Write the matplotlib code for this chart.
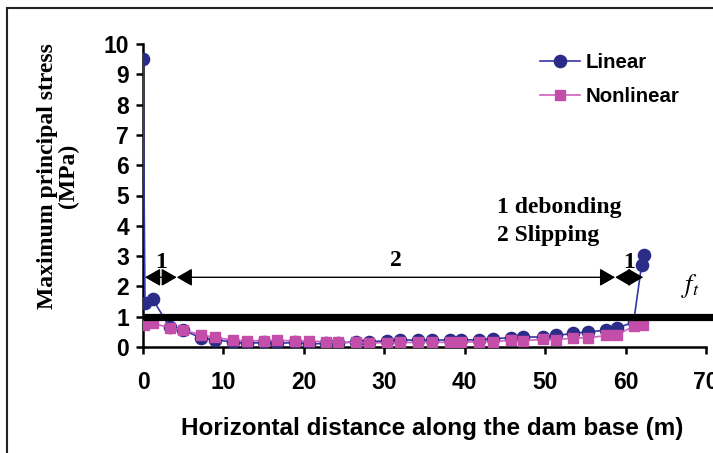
import matplotlib
matplotlib.use("Agg")
import matplotlib.pyplot as plt
from matplotlib.patches import Rectangle
from matplotlib.lines import Line2D

# Stress along the dam base
lin_x = [0, 0.25, 1.2, 3.3, 5.0, 7.2, 9.0, 11.2, 12.9, 15.0, 16.7, 18.9, 20.6,
         22.8, 24.3, 26.5, 28.1, 30.3, 32.0, 34.2, 35.9, 38.2, 39.6, 41.8, 43.5,
         45.7, 47.3, 49.7, 51.4, 53.5, 55.3, 57.6, 58.9, 61.0, 62.0, 62.3]
lin_y = [9.5, 1.45, 1.58, 0.66, 0.56, 0.30, 0.24, 0.16, 0.12, 0.15, 0.12, 0.15, 0.10,
         0.12, 0.13, 0.18, 0.18, 0.20, 0.24, 0.22, 0.23, 0.23, 0.23, 0.24, 0.28,
         0.30, 0.33, 0.33, 0.38, 0.45, 0.50, 0.55, 0.62, 0.82, 2.72, 3.03]

non_x = [0.1, 1.2, 3.3, 5.0, 7.2, 9.0, 11.2, 12.9, 15.0, 16.7, 18.9, 20.6,
         22.8, 24.3, 26.5, 28.1, 30.3, 32.0, 34.2, 35.9, 38.2, 39.6, 41.8, 43.5,
         45.7, 47.3, 49.7, 51.4, 53.5, 55.3, 57.6, 58.9, 61.0, 62.2]
non_y = [0.72, 0.79, 0.63, 0.56, 0.40, 0.32, 0.22, 0.21, 0.20, 0.22, 0.20, 0.20,
         0.17, 0.15, 0.15, 0.14, 0.14, 0.15, 0.15, 0.16, 0.15, 0.16, 0.17, 0.18,
         0.22, 0.21, 0.25, 0.24, 0.30, 0.30, 0.38, 0.40, 0.68, 0.74]

ft_value = 1.0
x_ticks = [0, 10, 20, 30, 40, 50, 60, 70]
y_ticks = list(range(0, 11))

# zone arrows: (start, end, label)
zones = [(0.25, 4.2, "1"), (4.2, 58.7, "2"), (58.7, 62.2, "1")]
zone_y = 2.3

W, H = 713, 453
fig = plt.figure(figsize=(W / 100, H / 100), dpi=100)
ax = fig.add_axes([143 / W, 1 - 347 / H, 563 / W, 303 / H])

sans = "Liberation Sans"
serif = "Liberation Serif"
navy = "#2B2B88"
navy_line = "#3535A8"
pink = "#C24EAA"
pink_line = "#D060BE"

ax.plot(lin_x, lin_y, color=navy_line, lw=1.2, marker="o", ms=8.8,
        mfc=navy, mec=navy, zorder=3, label="Linear")
ax.plot(non_x, non_y, color=pink_line, lw=1.2, marker="s", ms=6.8,
        mfc=pink, mec=pink, zorder=4, label="Nonlinear")

# tensile strength line
ax.plot([0, 71], [ft_value, ft_value], color="black", lw=5.2, zorder=5,
        clip_on=False, solid_capstyle="butt")

ax.set_xlim(0, 70)
ax.set_ylim(0, 10)
ax.set_xticks(x_ticks)
ax.set_yticks(y_ticks)
for s in ("top", "right"):
    ax.spines[s].set_visible(False)
for s in ("left", "bottom"):
    ax.spines[s].set_linewidth(1.8)
ax.tick_params(axis="both", width=1.8, length=5, direction="out")
ax.tick_params(axis="x", pad=12)
ax.tick_params(axis="y", pad=5)
for lab in ax.get_xticklabels() + ax.get_yticklabels():
    lab.set_fontfamily(sans)
    lab.set_fontweight("bold")
    lab.set_fontsize(16.5)

ax.set_xlabel("Horizontal distance along the dam base (m)", fontfamily=sans,
              fontweight="bold", fontsize=17.5)
ax.xaxis.set_label_coords(0.513, -0.232)
ax.set_ylabel("Maximum principal stress\n(MPa)", fontfamily=serif,
              fontweight="bold", fontsize=17, multialignment="center",
              linespacing=1.0)
ax.yaxis.set_label_coords(-0.113, 0.565)

# zone arrows
for x0, x1, lab in zones:
    ax.annotate("", xy=(x1, zone_y), xytext=(x0, zone_y),
                arrowprops=dict(arrowstyle="<|-|>,head_length=0.47,head_width=0.27",
                                color="black", lw=1.0, shrinkA=0, shrinkB=0,
                                mutation_scale=20), zorder=6)
    ax.text((x0 + x1) / 2, zone_y + (0.15 if lab == "1" else 0.2), lab,
            ha="center", va="bottom", fontfamily=serif, fontweight="bold",
            fontsize=17, zorder=7)

ax.text(44.0, 4.6, "1 debonding", fontfamily=serif, fontweight="bold",
        fontsize=17, va="center", ha="left")
ax.text(44.0, 3.68, "2 Slipping", fontfamily=serif, fontweight="bold",
        fontsize=17, va="center", ha="left")
ax.text(68.0, 2.0, r"$f_t$", fontsize=19, va="center", ha="center",
        math_fontfamily="stix")

handles = [Line2D([], [], color=navy_line, lw=1.2, marker="o", ms=8.8,
                  mfc=navy, mec=navy),
           Line2D([], [], color=pink_line, lw=1.2, marker="s", ms=6.8,
                  mfc=pink, mec=pink)]
leg = fig.legend(handles, ["Linear", "Nonlinear"], loc="upper left",
                 bbox_to_anchor=(540 / W, 1 - 53 / H), frameon=False,
                 prop={"family": sans, "weight": "bold", "size": 14.7},
                 handlelength=1.95, handletextpad=0.3, labelspacing=0.72,
                 borderpad=0, borderaxespad=0)

# outer frame
fig.patches.append(Rectangle((7 / W, -0.1), 1.2, 1 - 8 / H + 0.1,
                             transform=fig.transFigure, fill=False,
                             edgecolor="#222222", lw=1.5))

fig.savefig("out.png", dpi=100)
